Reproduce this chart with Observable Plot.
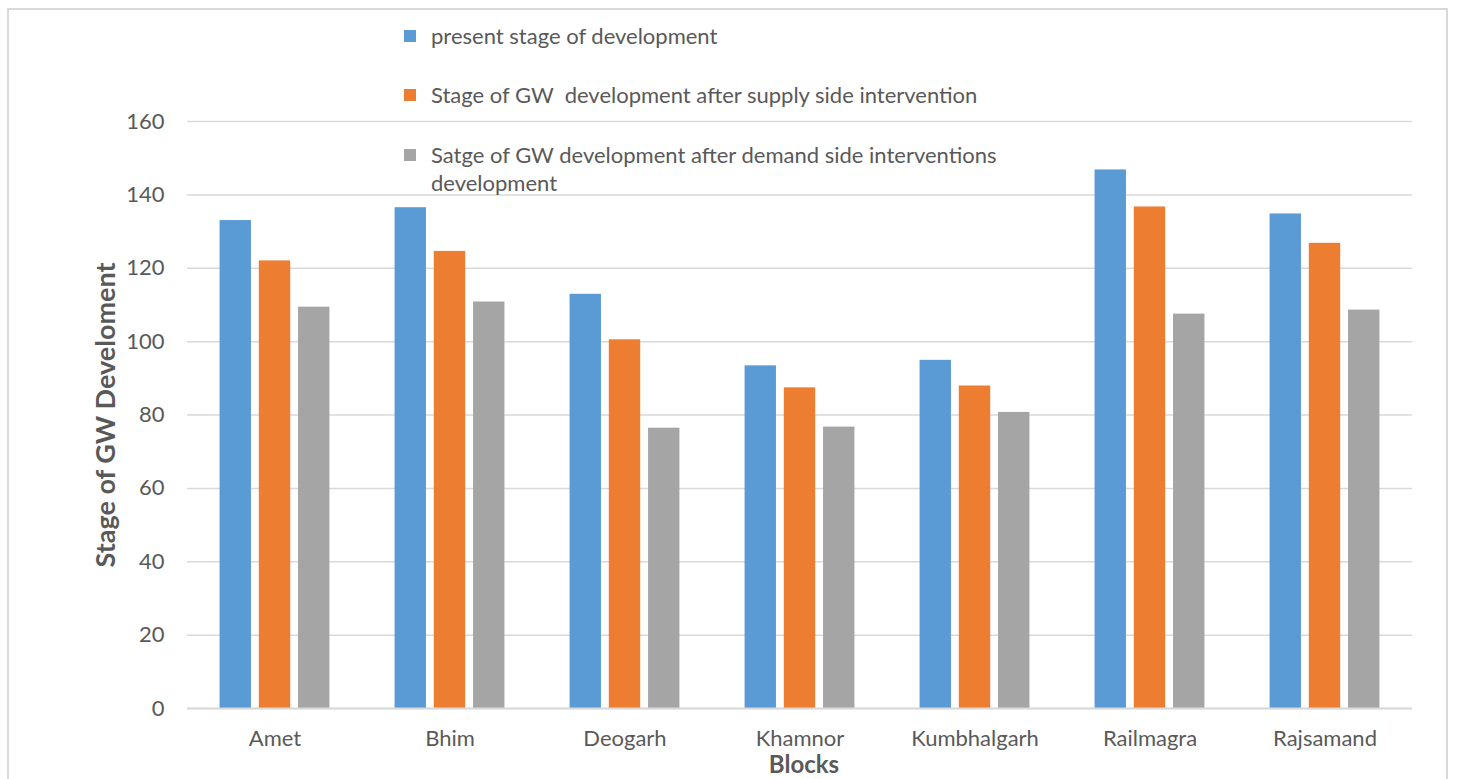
<!DOCTYPE html>
<html>
<head>
<meta charset="utf-8">
<script src="https://cdn.jsdelivr.net/npm/d3@7"></script>
<script src="https://cdn.jsdelivr.net/npm/@observablehq/plot@0.6"></script>
<style>
  html, body { margin: 0; padding: 0; background: #fff; }
  #wrap { position: relative; width: 1457px; height: 779px; overflow: hidden; font-family: Lato, sans-serif; color: #595959; }
  #border { position: absolute; left: 7px; top: 8px; width: 1441px; height: 800px; border: 2px solid #d9d9d9; border-bottom: none; box-sizing: border-box; }
  #chart { position: absolute; left: 0; top: 0; }
  .leg { position: absolute; left: 404px; font-size: 22px; line-height: 28px; white-space: nowrap; }
  .leg .sw { position: absolute; left: 0; top: 8px; width: 12px; height: 12px; }
  .leg .tx { position: absolute; left: 27px; top: 0; }
  .title { position: absolute; font-weight: bold; font-size: 24px; white-space: nowrap; }
  #ytitle { font-size: 27px; }
</style>
</head>
<body>
<div id="wrap">
  <div id="border"></div>
  <div id="chart"></div>
  <div id="legend"></div>
  <div class="title" id="ytitle">Stage of GW Develoment</div>
  <div class="title" id="xtitle">Blocks</div>
</div>
<script>
const blocks = ["Amet", "Bhim", "Deogarh", "Khamnor", "Kumbhalgarh", "Railmagra", "Rajsamand"];
const seriesNames = [
  "present stage of development",
  "Stage of GW  development after supply side intervention",
  "Satge of GW development after demand side interventions development"
];
const legendLines = [
  ["present stage of development"],
  ["Stage of GW\u00a0 development after supply side intervention"],
  ["Satge of GW development after demand side interventions", "development"]
];
const seriesColors = ["#5B9BD5", "#ED7D31", "#A5A5A5"];
const present = [133.0, 136.5, 112.9, 93.4, 94.9, 146.8, 134.8];
const supply  = [122.0, 124.6, 100.5, 87.4, 87.9, 136.7, 126.8];
const demand  = [109.4, 110.8, 76.4, 76.7, 80.7, 107.5, 108.6];
const yTicks = [0, 20, 40, 60, 80, 100, 120, 140, 160];

const seriesValues = [present, supply, demand];
const data = [];
blocks.forEach((b, i) => {
  seriesNames.forEach((s, j) => data.push({block: b, series: s, value: seriesValues[j][i]}));
});

const chart = Plot.plot({
  width: 1457,
  height: 779,
  marginLeft: 187,
  marginRight: 45,
  marginTop: 121,
  marginBottom: 71,
  style: {fontFamily: "Lato, sans-serif", fontSize: "22px", color: "#595959", background: "transparent"},
  fx: {domain: blocks, padding: 0, label: null, round: false},
  x: {domain: seriesNames, paddingInner: 0.2, paddingOuter: 0.83, round: false, axis: null},
  y: {domain: [0, 160], label: null},
  color: {domain: seriesNames, range: seriesColors},
  marks: [
    Plot.gridY(yTicks, {stroke: "#d9d9d9", strokeOpacity: 1, strokeWidth: 1.5, dx: 0}),
    Plot.axisY(yTicks, {tickSize: 0, tickPadding: 23, label: null, fontSize: 22, fill: "#595959"}),
    Plot.barY(data, {fx: "block", x: "series", y: "value", fill: "series"}),
    Plot.ruleY([0], {stroke: "#d9d9d9", strokeWidth: 2}),
    Plot.axisFx({anchor: "bottom", tickSize: 0, tickPadding: 22, label: null, fontSize: 22, fill: "#595959"})
  ]
});
document.getElementById("chart").appendChild(chart);

// legend
const legendTops = [22, 81, 141];
const legend = document.getElementById("legend");
legendLines.forEach((lines, i) => {
  const d = document.createElement("div");
  d.className = "leg";
  d.style.top = legendTops[i] + "px";
  d.innerHTML = `<div class="sw" style="background:${seriesColors[i]}"></div><div class="tx">${lines.join("<br>")}</div>`;
  legend.appendChild(d);
});

// axis titles
const yt = document.getElementById("ytitle");
yt.style.left = "104px"; yt.style.top = "415px";
yt.style.transform = "translate(-50%, -50%) rotate(-90deg)";
const xt = document.getElementById("xtitle");
xt.style.left = "804px"; xt.style.top = "763px";
xt.style.transform = "translate(-50%, -50%)";
</script>
</body>
</html>
